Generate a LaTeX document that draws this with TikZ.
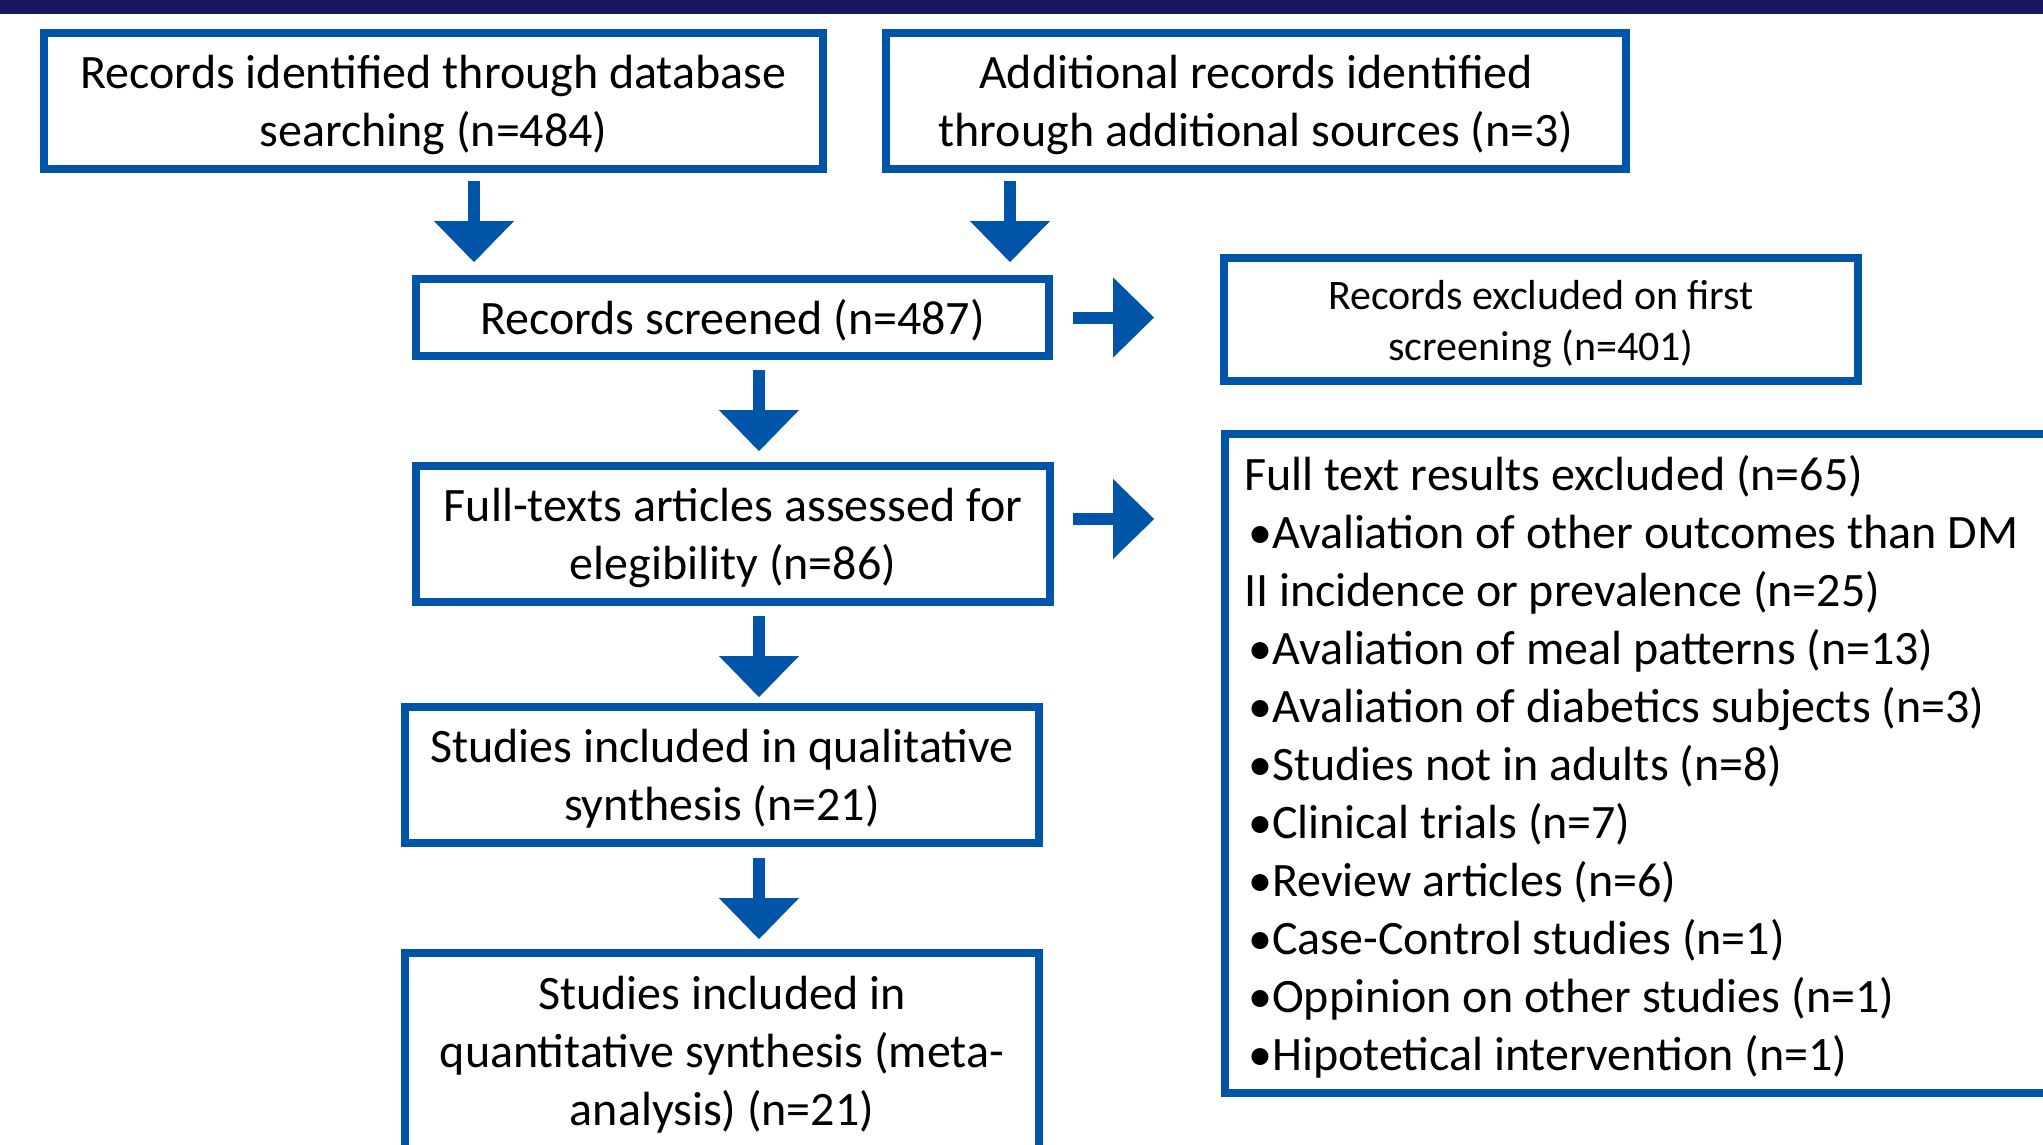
\documentclass[tikz,border=0pt]{standalone}
\usepackage{fontspec}
\setmainfont{Carlito}
\usetikzlibrary{arrows.meta}
\definecolor{boxblue}{RGB}{0,85,168}
\definecolor{barnavy}{RGB}{25,24,94}
\begin{document}
\begin{tikzpicture}[x=1pt,y=-1pt,
  box/.style={draw=boxblue, line width=8pt, rectangle, inner sep=0pt},
  txt/.style={inner sep=0pt, align=center, text=black,
    font=\fontsize{48}{58}\selectfont},
  smalltxt/.style={txt, font=\fontsize{42}{51}\selectfont},
  listtxt/.style={txt, align=left, anchor=west},
  flow/.style={draw=boxblue, line width=12pt,
    -{Triangle[length=41pt,width=80pt,line width=0.1pt]}}
]
% page frame
\useasboundingbox (0,0) rectangle (2043,1145);
\clip (0,0) rectangle (2043,1145);
\fill[white] (0,0) rectangle (2043,1145);
\fill[barnavy] (0,0) rectangle (2043,14);

% boxes
\node[box, minimum width=779pt, minimum height=136pt] (b1) at (433.5,101) {};
\node[box, minimum width=740pt, minimum height=136pt] (b2) at (1256,101) {};
\node[box, minimum width=633pt, minimum height=77pt] (b3) at (732.5,317.5) {};
\node[box, minimum width=634pt, minimum height=123pt] (b4) at (1541,319.5) {};
\node[box, minimum width=634pt, minimum height=136pt] (b5) at (733,534) {};
\node[box, minimum width=875pt, minimum height=659pt] (b6) at (1662.5,763.5) {};
\node[box, minimum width=634pt, minimum height=136pt] (b7) at (722,775) {};
\node[box, minimum width=634pt, minimum height=197pt] (b8) at (722,1051.5) {};

% box texts
\node[txt] (t1) at ([yshift=-4pt]b1.center)
  {Records identified through database\\searching (n=484)};
\node[txt] (t2) at ([yshift=-4pt]b2.center)
  {Additional records identified\\through additional sources (n=3)};
\node[txt] (t3) at ([yshift=-3pt]b3.center)
  {Records screened (n=487)};
\node[smalltxt] (t4) at ([yshift=-5pt]b4.center)
  {Records excluded on first\\screening (n=401)};
\node[txt] (t5) at ([yshift=-4pt]b5.center)
  {Full-texts articles assessed for\\elegibility (n=86)};
\node[listtxt] (t6) at ([xshift=23pt,yshift=-3pt]b6.west)
  {Full text results excluded (n=65)\\
   \hspace*{4pt}•Avaliation of other outcomes than DM\\
   II incidence or prevalence (n=25)\\
   \hspace*{4pt}•Avaliation of meal patterns (n=13)\\
   \hspace*{4pt}•Avaliation of diabetics subjects (n=3)\\
   \hspace*{4pt}•Studies not in adults (n=8)\\
   \hspace*{4pt}•Clinical trials (n=7)\\
   \hspace*{4pt}•Review articles (n=6)\\
   \hspace*{4pt}•Case-Control studies (n=1)\\
   \hspace*{4pt}•Oppinion on other studies (n=1)\\
   \hspace*{4pt}•Hipotetical intervention (n=1)};
\node[txt] (t7) at ([yshift=-4pt]b7.center)
  {Studies included in qualitative\\synthesis (n=21)};
\node[txt] (t8) at ([yshift=-3pt]b8.center)
  {Studies included in\\quantitative synthesis (meta-\\analysis) (n=21)};

% arrow positions
\coordinate (x1) at (474,0);
\coordinate (x2) at (1010,0);
\coordinate (x3) at (759,0);
\coordinate (y5) at (0,519);

% connectors
\draw[flow, shorten <=8pt, shorten >=13pt] (b1.south -| x1) -- (b3.north -| x1);
\draw[flow, shorten <=8pt, shorten >=13pt] (b2.south -| x2) -- (b3.north -| x2);
\draw[flow, shorten <=10pt, shorten >=11pt] (b3.south -| x3) -- (b5.north -| x3);
\draw[flow, shorten <=10pt, shorten >=6pt] (b5.south -| x3) -- (b7.north -| x3);
\draw[flow, shorten <=11pt, shorten >=10pt] (b7.south -| x3) -- (b8.north -| x3);
\draw[flow, shorten <=20pt, shorten >=66pt] (b3.east) -- (b4.west |- b3.east);
\draw[flow, shorten <=19pt, shorten >=67pt] (b5.east |- y5) -- (b6.west |- y5);
\end{tikzpicture}
\end{document}
